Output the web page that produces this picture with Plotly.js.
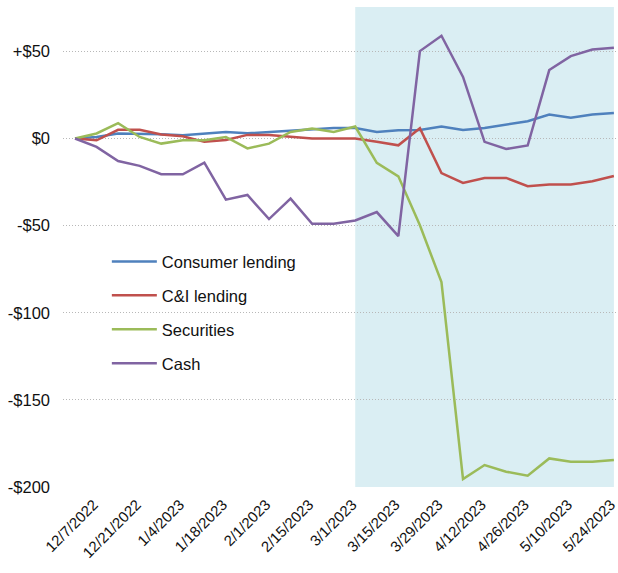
<!DOCTYPE html>
<html>
<head>
<meta charset="utf-8">
<script src="https://cdn.plot.ly/plotly-3.0.1.min.js"></script>
<style>html,body{margin:0;padding:0;background:#fff}#chart{width:618px;height:573px}</style>
</head>
<body>
<div id="chart"></div>
<script>
const dates = ["11/30/2022","12/7/2022","12/14/2022","12/21/2022","12/28/2022","1/4/2023","1/11/2023","1/18/2023","1/25/2023","2/1/2023","2/8/2023","2/15/2023","2/22/2023","3/1/2023","3/8/2023","3/15/2023","3/22/2023","3/29/2023","4/5/2023","4/12/2023","4/19/2023","4/26/2023","5/3/2023","5/10/2023","5/17/2023","5/24/2023"];
const tickLabels = ["12/7/2022","12/21/2022","1/4/2023","1/18/2023","2/1/2023","2/15/2023","3/1/2023","3/15/2023","3/29/2023","4/12/2023","4/26/2023","5/10/2023","5/24/2023"];
const consumerLending = [0,0.9,2.9,2.9,2.5,1.9,2.9,3.8,3.0,3.8,4.2,5.2,6.1,6.1,3.8,4.8,4.9,6.9,4.9,6.1,8.0,9.9,13.8,11.9,13.8,14.7];
const ciLending = [0,-1.0,5.0,5.0,2.3,1.3,-1.9,-0.8,2.1,2.1,1.1,0,0,0,-1.9,-3.9,5.9,-19.8,-25.5,-22.6,-22.6,-27.4,-26.4,-26.4,-24.5,-21.5];
const securities = [0,2.9,8.8,0.9,-2.9,-1.0,-1.0,0.9,-5.7,-2.9,3.8,5.7,3.8,6.9,-14.0,-21.7,-49.8,-82.4,-195.4,-187.4,-191.2,-193.5,-183.6,-185.5,-185.5,-184.5];
const cash = [0,-4.8,-12.9,-15.7,-20.5,-20.5,-13.8,-35.1,-32.4,-46.2,-34.5,-48.9,-48.9,-47.0,-42.2,-56.0,50.2,59.0,35.4,-1.9,-6.0,-4.0,39.3,47.3,51.1,52.1];
const yTickVals = [50,0,-50,-100,-150,-200];
const yTickText = ["+$50","$0","-$50","-$100","-$150","-$200"];
const shadeStart = "3/1/2023";
const shadeEnd = "5/24/2023";

const FONT = "Liberation Sans, Arial, sans-serif";
const series = [
  {name:"Consumer lending", y:consumerLending, color:"#4F81BD", legend:"legend"},
  {name:"C&I lending", y:ciLending, color:"#C0504D", legend:"legend2"},
  {name:"Securities", y:securities, color:"#9BBB59", legend:"legend3"},
  {name:"Cash", y:cash, color:"#8064A2", legend:"legend4"}
];
const traces = series.map(s => ({
  type:"scatter", mode:"lines", x:dates, y:s.y, name:s.name,
  line:{color:s.color, width:2.5}, legend:s.legend
}));

function leg(yp){
  return {x:0.079, xanchor:"left", y:yp, yanchor:"middle", bgcolor:"rgba(0,0,0,0)",
    borderwidth:0, itemwidth:45, font:{family:FONT, size:16.5, color:"#111"}};
}
const layout = {
  width:618, height:573,
  margin:{l:63, r:0, t:7, b:86},
  paper_bgcolor:"#fff", plot_bgcolor:"rgba(0,0,0,0)",
  font:{family:FONT, color:"#111"},
  showlegend:true,
  legend:leg(0.469),
  legend2:leg(0.399),
  legend3:leg(0.328),
  legend4:leg(0.257),
  xaxis:{type:"category", categoryorder:"array", categoryarray:dates,
    range:[-0.557, 25.19], tickmode:"array", tickvals:tickLabels, ticktext:tickLabels,
    tickangle:-45, showgrid:false, zeroline:false, showline:false, ticks:"",
    tickfont:{family:FONT, size:15, color:"#111"}, ticklabelstandoff:5, ticklabelshift:-3},
  yaxis:{range:[-200, 75.5], tickmode:"array", tickvals:yTickVals, ticktext:yTickText,
    showgrid:true, gridcolor:"#b8b8b8", griddash:"1px,2px", gridwidth:1,
    zeroline:false, showline:false, ticks:"", ticklabelstandoff:12,
    tickfont:{family:FONT, size:16.5, color:"#111"}},
  shapes:[{type:"rect", xref:"x", yref:"paper", x0:shadeStart, x1:shadeEnd, y0:0, y1:1,
    fillcolor:"#DAEEF3", line:{width:0}, layer:"below"}]
};
Plotly.newPlot("chart", traces, layout, {displayModeBar:false, staticPlot:true});
</script>
</body>
</html>
